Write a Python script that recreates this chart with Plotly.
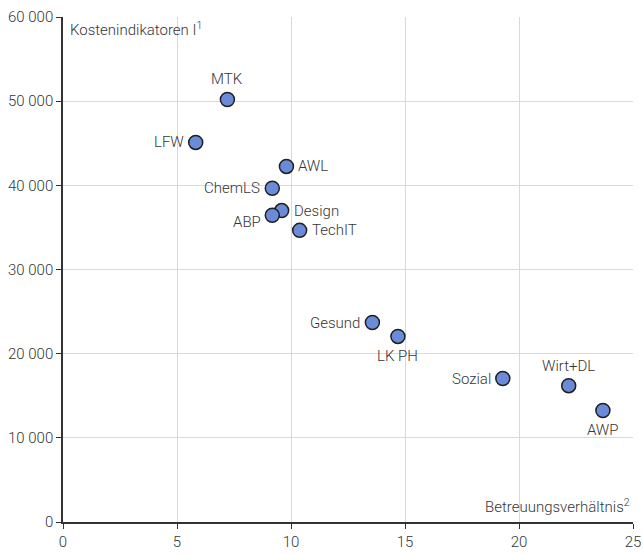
import plotly.graph_objects as go

names = ["MTK", "LFW", "AWL", "ChemLS", "Design", "ABP", "TechIT",
         "Gesund", "LK PH", "Sozial", "Wirt+DL", "AWP"]
betreuung = [7.21, 5.82, 9.80, 9.18, 9.59, 9.18, 10.38, 13.57, 14.69, 19.29, 22.18, 23.68]
kosten = [50200, 45100, 42250, 39650, 37000, 36450, 34650, 23700, 22050, 17050, 16200, 13250]
label_pos = ["top", "left", "right", "left", "right", "left-low", "right",
             "left", "bottom", "left", "top", "bottom"]

x_ticks = [0, 5, 10, 15, 20, 25]
y_ticks = [0, 10000, 20000, 30000, 40000, 50000, 60000]
y_ticktext = ["0", "10 000", "20 000", "30 000", "40 000", "50 000", "60 000"]

font_family = "Roboto"
text_color = "#363636"
fs = 15
fw = 300

def fnt():
    return dict(size=fs, color=text_color, family=font_family, weight=fw)

fig = go.Figure()
fig.add_trace(go.Scatter(
    x=betreuung, y=kosten, mode="markers",
    marker=dict(size=14, color="#6a8bd8", line=dict(color="#1f1f1f", width=1.5)),
    hoverinfo="text", text=names, cliponaxis=False,
))

anns = []
for n, x, y, p in zip(names, betreuung, kosten, label_pos):
    a = dict(x=x, y=y, text=n, showarrow=False, font=fnt())
    if p == "top":
        a.update(xanchor="center", yanchor="middle", yshift=20)
    elif p == "bottom":
        a.update(xanchor="center", yanchor="middle", yshift=-20)
    elif p == "left":
        a.update(xanchor="right", yanchor="middle", xshift=-10)
    elif p == "left-low":
        a.update(xanchor="right", yanchor="middle", xshift=-9, yshift=-7)
    elif p == "right":
        a.update(xanchor="left", yanchor="middle", xshift=10)
    anns.append(a)

anns.append(dict(xref="paper", yref="paper", x=0.0, y=1.0, xshift=5, yshift=0,
                 xanchor="left", yanchor="top", showarrow=False,
                 text="Kostenindikatoren I<sup>1</sup>", font=fnt()))
anns.append(dict(xref="paper", yref="paper", x=1.0, y=0.0, xshift=-1, yshift=4,
                 xanchor="right", yanchor="bottom", showarrow=False,
                 text="Betreuungsverhältnis<sup>2</sup>", font=fnt()))

fig.update_layout(
    width=643, height=554,
    margin=dict(l=63, r=10, t=17, b=32, autoexpand=False),
    paper_bgcolor="white", plot_bgcolor="white",
    showlegend=False,
    font=fnt(),
    annotations=anns,
    xaxis=dict(range=[0, 25], tickvals=x_ticks, ticks="outside", ticklen=5,
               tickcolor="#333333", showline=True, linecolor="#333333", linewidth=1.5,
               showgrid=True, gridcolor="#d9d9d9", gridwidth=1, zeroline=False,
               automargin=False, tickfont=fnt()),
    yaxis=dict(range=[0, 60000], tickvals=y_ticks, ticktext=y_ticktext, ticks="outside",
               ticklen=5, tickcolor="#333333", showline=True, linecolor="#333333",
               linewidth=1.5, showgrid=True, gridcolor="#d9d9d9", gridwidth=1,
               zeroline=False, automargin=False, tickfont=fnt()),
)

# remove the browser's default 8px body margin so the figure fills the window exactly
fig.write_html("out.html", config={"displayModeBar": False},
               post_script="document.body.style.margin='0';document.body.style.overflow='hidden';")
